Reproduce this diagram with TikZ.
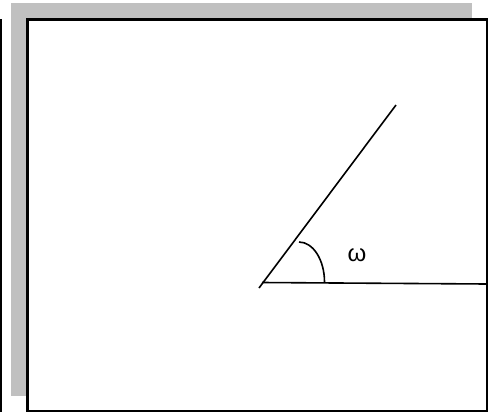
\documentclass[tikz,border=0pt]{standalone}
\usepackage{fontspec}
\setmainfont{Liberation Sans}
\definecolor{shadowgray}{HTML}{C0C0C0}
\tikzset{frameline/.style={line width=1.6pt},angleline/.style={line width=1.2pt}}
\begin{document}
\begin{tikzpicture}[x=.75pt,y=-.75pt]
\useasboundingbox(0,0) rectangle (494,412);
\draw[frameline](1,19)--(1,412);\fill[shadowgray](11,3) rectangle (472,396);
\draw[frameline,fill=white](27.5,19.5) rectangle (487,411);
\coordinate(tail)at(259,288);\coordinate(vertex)at(262,282.5);\coordinate(tip)at(396,105);\coordinate(rayend)at(487,284);
\draw[angleline](tail)--(tip);\draw[angleline](vertex)--(rayend);
\draw[angleline](299,242) arc[start angle=90,end angle=0,x radius=25.5,y radius=-40];
\node(omega)at(357,255){\fontsize{18}{21}\selectfont ω};
\end{tikzpicture}
\end{document}
